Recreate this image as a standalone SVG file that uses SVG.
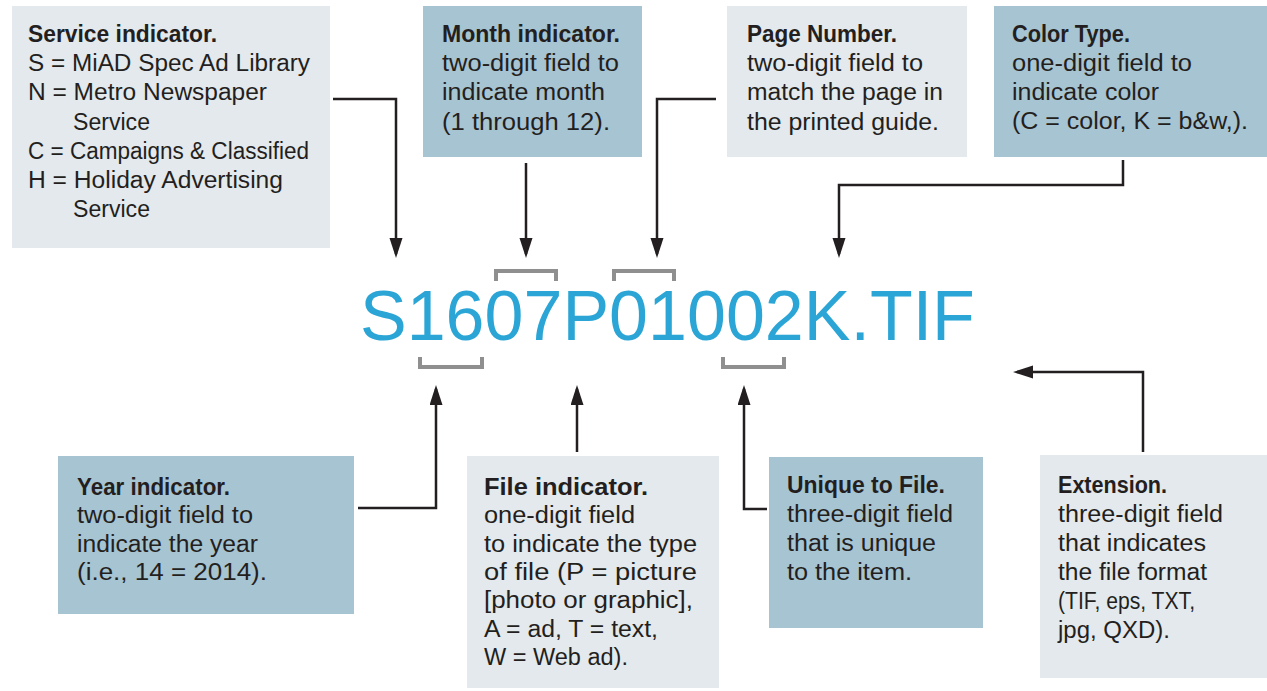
<svg xmlns="http://www.w3.org/2000/svg" width="1267" height="691" viewBox="0 0 1267 691">
<defs>
<style>
.bg{fill:#ffffff}
.light{fill:#e3e9ed}
.dark{fill:#a7c4d3}
.t{font-family:"Liberation Sans",Arial,sans-serif;font-size:23px;fill:#231f20}
.h{font-weight:bold}
.conn{fill:none;stroke:#231f20;stroke-width:2.5}
.brk{fill:none;stroke:#8f8f8f;stroke-width:4}
.fname{font-family:"Liberation Sans",Arial,sans-serif;font-size:70px;fill:#2ba5d5}
</style>
<marker id="arr" markerUnits="userSpaceOnUse" markerWidth="20" markerHeight="14" refX="16" refY="6.5" orient="auto">
<path d="M0,0 L20,6.5 L0,13 Z" fill="#231f20"/>
</marker>
</defs>
<rect class="bg" x="0" y="0" width="1267" height="691"/>

<g id="node-service">
<rect class="light" x="12" y="6" width="318" height="242"/>
<text class="t h" x="28" y="42" textLength="189" lengthAdjust="spacingAndGlyphs">Service indicator.</text>
<text class="t" x="28" y="71" textLength="282" lengthAdjust="spacingAndGlyphs">S = MiAD Spec Ad Library</text>
<text class="t" x="28" y="100" textLength="239" lengthAdjust="spacingAndGlyphs">N = Metro Newspaper</text>
<text class="t" x="73" y="130" textLength="77" lengthAdjust="spacingAndGlyphs">Service</text>
<text class="t" x="28" y="159" textLength="281" lengthAdjust="spacingAndGlyphs">C = Campaigns &amp; Classified</text>
<text class="t" x="28" y="188" textLength="255" lengthAdjust="spacingAndGlyphs">H = Holiday Advertising</text>
<text class="t" x="73" y="217" textLength="77" lengthAdjust="spacingAndGlyphs">Service</text>
</g>

<g id="node-month">
<rect class="dark" x="423" y="6" width="219" height="151"/>
<text class="t h" x="442" y="42" textLength="178" lengthAdjust="spacingAndGlyphs">Month indicator.</text>
<text class="t" x="442" y="71" textLength="177" lengthAdjust="spacingAndGlyphs">two-digit field to</text>
<text class="t" x="442" y="100" textLength="163" lengthAdjust="spacingAndGlyphs">indicate month</text>
<text class="t" x="442" y="130" textLength="168" lengthAdjust="spacingAndGlyphs">(1 through 12).</text>
</g>

<g id="node-page">
<rect class="light" x="727" y="6" width="240" height="151"/>
<text class="t h" x="747" y="42" textLength="150" lengthAdjust="spacingAndGlyphs">Page Number.</text>
<text class="t" x="747" y="71" textLength="176" lengthAdjust="spacingAndGlyphs">two-digit field to</text>
<text class="t" x="747" y="100" textLength="196" lengthAdjust="spacingAndGlyphs">match the page in</text>
<text class="t" x="747" y="130" textLength="192" lengthAdjust="spacingAndGlyphs">the printed guide.</text>
</g>

<g id="node-color">
<rect class="dark" x="994" y="6" width="273" height="151"/>
<text class="t h" x="1012" y="42" textLength="118" lengthAdjust="spacingAndGlyphs">Color Type.</text>
<text class="t" x="1012" y="71" textLength="180" lengthAdjust="spacingAndGlyphs">one-digit field to</text>
<text class="t" x="1012" y="100" textLength="147" lengthAdjust="spacingAndGlyphs">indicate color</text>
<text class="t" x="1012" y="129" textLength="236" lengthAdjust="spacingAndGlyphs">(C = color, K = b&amp;w,).</text>
</g>

<g id="node-filename">
<text class="fname" x="360" y="340">S1607P01002K.TIF</text>
<path class="brk" d="M496,281 V271 H556 V281"/>
<path class="brk" d="M614,281 V271 H674 V281"/>
<path class="brk" d="M420,357 V367 H482 V357"/>
<path class="brk" d="M723,357 V367 H784 V357"/>
</g>

<g id="node-year">
<rect class="dark" x="58" y="456" width="296" height="158"/>
<text class="t h" x="77" y="495" textLength="153" lengthAdjust="spacingAndGlyphs">Year indicator.</text>
<text class="t" x="77" y="523" textLength="176" lengthAdjust="spacingAndGlyphs">two-digit field to</text>
<text class="t" x="77" y="552" textLength="181" lengthAdjust="spacingAndGlyphs">indicate the year</text>
<text class="t" x="77" y="580" textLength="190" lengthAdjust="spacingAndGlyphs">(i.e., 14 = 2014).</text>
</g>

<g id="node-file">
<rect class="light" x="467" y="456" width="252" height="232"/>
<text class="t h" x="484" y="495" textLength="164" lengthAdjust="spacingAndGlyphs">File indicator.</text>
<text class="t" x="484" y="523" textLength="151" lengthAdjust="spacingAndGlyphs">one-digit field</text>
<text class="t" x="484" y="552" textLength="213" lengthAdjust="spacingAndGlyphs">to indicate the type</text>
<text class="t" x="484" y="580" textLength="213" lengthAdjust="spacingAndGlyphs">of file (P = picture</text>
<text class="t" x="484" y="608" textLength="209" lengthAdjust="spacingAndGlyphs">[photo or graphic],</text>
<text class="t" x="484" y="637" textLength="174" lengthAdjust="spacingAndGlyphs">A = ad, T = text,</text>
<text class="t" x="484" y="665" textLength="144" lengthAdjust="spacingAndGlyphs">W = Web ad).</text>
</g>

<g id="node-unique">
<rect class="dark" x="769" y="457" width="214" height="171"/>
<text class="t h" x="787" y="493" textLength="158" lengthAdjust="spacingAndGlyphs">Unique to File.</text>
<text class="t" x="787" y="522" textLength="166" lengthAdjust="spacingAndGlyphs">three-digit field</text>
<text class="t" x="787" y="551" textLength="149" lengthAdjust="spacingAndGlyphs">that is unique</text>
<text class="t" x="787" y="580" textLength="125" lengthAdjust="spacingAndGlyphs">to the item.</text>
</g>

<g id="node-extension">
<rect class="light" x="1040" y="455" width="227" height="223"/>
<text class="t h" x="1058" y="493" textLength="109" lengthAdjust="spacingAndGlyphs">Extension.</text>
<text class="t" x="1058" y="522" textLength="165" lengthAdjust="spacingAndGlyphs">three-digit field</text>
<text class="t" x="1058" y="551" textLength="148" lengthAdjust="spacingAndGlyphs">that indicates</text>
<text class="t" x="1058" y="580" textLength="149" lengthAdjust="spacingAndGlyphs">the file format</text>
<text class="t" x="1058" y="609" textLength="137" lengthAdjust="spacingAndGlyphs">(TIF, eps, TXT,</text>
<text class="t" x="1058" y="638" textLength="112" lengthAdjust="spacingAndGlyphs">jpg, QXD).</text>
</g>

<g id="connectors">
<path class="conn" marker-end="url(#arr)" d="M333,99 H396 V254"/>
<path class="conn" marker-end="url(#arr)" d="M526,163 V254"/>
<path class="conn" marker-end="url(#arr)" d="M716,99 H657 V254"/>
<path class="conn" marker-end="url(#arr)" d="M1123,160 V185 H839 V254"/>
<path class="conn" marker-end="url(#arr)" d="M358,508 H436 V389"/>
<path class="conn" marker-end="url(#arr)" d="M577,452 V389"/>
<path class="conn" marker-end="url(#arr)" d="M767,509 H744 V389"/>
<path class="conn" marker-end="url(#arr)" d="M1143,452 V372 H1017"/>
</g>
</svg>
